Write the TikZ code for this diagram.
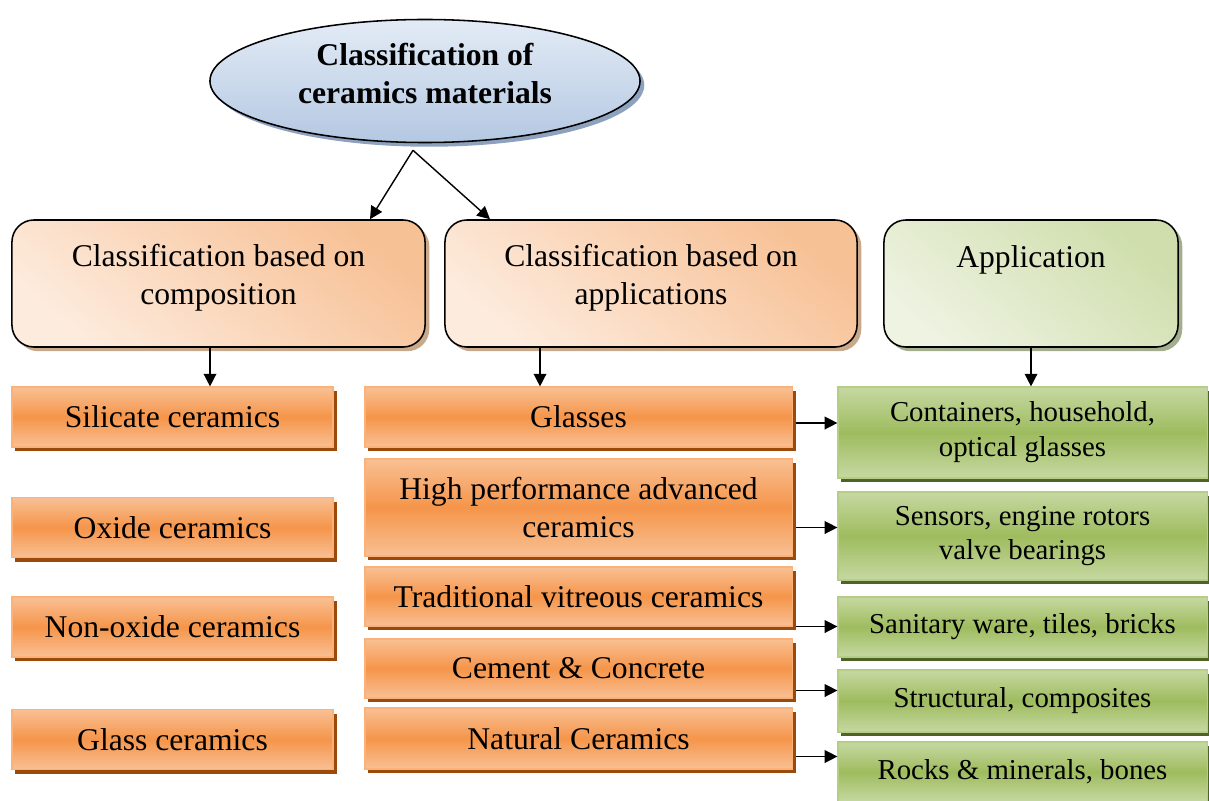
\documentclass[tikz,border=0pt]{standalone}
\usepackage{fontspec}
\setmainfont{Liberation Serif}
\usetikzlibrary{shapes.geometric,arrows.meta,shadows}

\definecolor{skyTop}{HTML}{E3EBF6}
\definecolor{skyBot}{HTML}{B4C8E2}
\definecolor{skyShade}{HTML}{8DA2BF}
\definecolor{peachA}{HTML}{F7C196}
\definecolor{peachB}{HTML}{FDEBDD}
\definecolor{peachShade}{HTML}{C9A98C}
\definecolor{sageA}{HTML}{CFDEAC}
\definecolor{sageB}{HTML}{EEF3E2}
\definecolor{sageShade}{HTML}{A3AE8E}
\definecolor{orLight}{HTML}{F9C094}
\definecolor{orMid}{HTML}{F5954A}
\definecolor{orEdge}{HTML}{FAB27A}
\definecolor{orShade}{HTML}{9A4A0A}
\definecolor{grLight}{HTML}{C6D8A2}
\definecolor{grMid}{HTML}{9EBC5E}
\definecolor{grEdge}{HTML}{B6CD85}
\definecolor{grShade}{HTML}{4F6228}

% extra depth below the last line, lifts the text in its box
\newcommand{\lift}[1]{\rule[-#1]{0pt}{0pt}}

\tikzset{
	rootnode/.style={ellipse, draw, line width=1.1pt, top color=skyTop, bottom color=skyBot,
		drop shadow={shadow xshift=3pt, shadow yshift=-3pt, fill=skyShade, opacity=1},
		minimum width=10.75cm, minimum height=3.075cm, inner sep=0pt, align=center,
		font=\fontsize{22.5}{27}\selectfont\bfseries},
	rbox/.style={rounded corners=0.55cm, draw, line width=1.1pt, minimum height=3.175cm,
		align=center, font=\fontsize{22.5}{27}\selectfont},
	catbox/.style={rbox, top color=peachA, bottom color=peachB, shading angle=-40,
		drop shadow={shadow xshift=3pt, shadow yshift=-3pt, fill=peachShade, opacity=1}},
	appcat/.style={rbox, top color=sageA, bottom color=sageB, shading angle=-40,
		drop shadow={shadow xshift=3pt, shadow yshift=-3pt, fill=sageShade, opacity=1}},
	orbox/.style={draw=orEdge, line width=0.8pt, top color=orLight, bottom color=orLight, middle color=orMid,
		drop shadow={shadow xshift=2.5pt, shadow yshift=-3pt, fill=orShade, opacity=1},
		minimum height=1.5cm, inner sep=2pt, align=center, font=\fontsize{22.5}{27}\selectfont},
	grbox/.style={draw=grEdge, line width=0.8pt, top color=grLight, bottom color=grLight, middle color=grMid,
		drop shadow={shadow xshift=2.5pt, shadow yshift=-3pt, fill=grShade, opacity=1},
		minimum width=9.225cm, minimum height=1.5cm, inner sep=2pt, align=center,
		font=\fontsize{20.5}{24.8}\selectfont},
	arr/.style={-{Triangle[length=9pt,width=9pt]}, line width=1pt}
}

\begin{document}
\begin{tikzpicture}[x=0.025cm, y=-0.025cm]
	\useasboundingbox (0,0) rectangle (1209,801);

	% root
	\node[rootnode] (root) at (425,81) {Classification of\\ceramics materials\lift{11pt}};

	% categories
	\node[catbox, minimum width=10.325cm] (comp) at (218.5,283.5) {Classification based on\\composition\lift{13.5pt}};
	\node[catbox, minimum width=10.3cm]   (appl) at (651,283.5)   {Classification based on\\applications\lift{13.5pt}};
	\node[appcat, minimum width=7.35cm]   (appn) at (1031,283.5)  {Application\lift{38.5pt}};

	% composition column
	\node[orbox, minimum width=8.025cm] (silicate) at (172.5,417)   {Silicate ceramics};
	\node[orbox, minimum width=8.025cm] (oxide)    at (172.5,527.5) {Oxide ceramics};
	\node[orbox, minimum width=8.025cm] (nonoxide) at (172.5,627)   {Non-oxide ceramics};
	\node[orbox, minimum width=8.025cm] (glassc)   at (172.5,739.5) {Glass ceramics};

	% applications column
	\node[orbox, minimum width=10.675cm] (glasses)  at (578.5,417) {Glasses};
	\node[orbox, minimum width=10.675cm, minimum height=2.425cm] (highperf) at (578.5,507.5) {High performance advanced\\ceramics};
	\node[orbox, minimum width=10.675cm, minimum height=1.475cm] (tradvit)  at (578.5,596.5) {Traditional vitreous ceramics};
	\node[orbox, minimum width=10.675cm, minimum height=1.475cm] (cement)   at (578.5,668.5) {Cement \& Concrete};
	\node[orbox, minimum width=10.675cm, minimum height=1.525cm] (natural)  at (578.5,738.5) {Natural Ceramics};

	% uses
	\node[grbox, minimum height=2.275cm] (contain)  at (1022.5,432.5) {Containers, household,\\optical glasses};
	\node[grbox, minimum height=2.2cm]   (sensor)   at (1022.5,536)   {Sensors, engine rotors\\valve bearings};
	\node[grbox]                         (sanitary) at (1022.5,627)   {Sanitary ware, tiles, bricks};
	\node[grbox, minimum height=1.55cm]  (struct)   at (1022.5,701)   {Structural, composites};
	\node[grbox]                         (rocks)    at (1022.5,772)   {Rocks \& minerals, bones};

	% arrows from root
	\coordinate (apex) at ([xshift=-0.3cm, yshift=-0.175cm]root.south);
	\coordinate (e1) at (370,0);
	\coordinate (e2) at (490,0);
	\draw[arr] (apex) -- (comp.north -| e1);
	\draw[arr] (apex) -- (appl.north -| e2);

	% down arrows
	\coordinate (d1) at (210,0);
	\coordinate (d2) at (540,0);
	\draw[arr] (comp.south -| d1) -- (silicate.north -| d1);
	\draw[arr] (appl.south -| d2) -- (glasses.north -| d2);
	\draw[arr] (appn.south) -- (contain.north -| appn.south);

	% side arrows
	\foreach \a/\b/\dy in {glasses/contain/0.15cm, highperf/sensor/0.5cm, tradvit/sanitary/0.75cm,
			cement/struct/0.55cm, natural/rocks/0.45cm}{
		\coordinate (s) at ([xshift=2.5pt, yshift=-\dy]\a.east);
		\draw[arr] (s) -- (s -| \b.west);
	}
\end{tikzpicture}
\end{document}
